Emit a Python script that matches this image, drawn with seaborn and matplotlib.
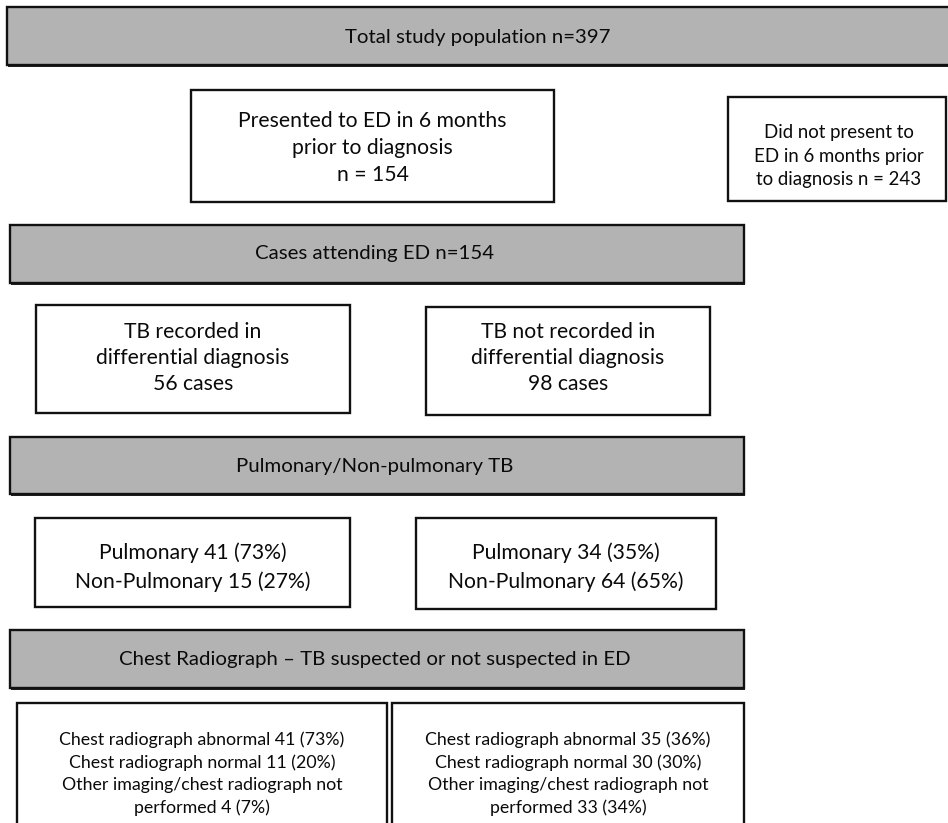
# Flow chart of TB cases presenting to ED

import matplotlib
matplotlib.use('Agg')
import matplotlib.pyplot as plt
import matplotlib.patches as mpatches
import seaborn as sns

# Text content of the chart
header_labels = [
    'Total study population n=397',
    'Cases attending ED n=154',
    'Pulmonary/Non-pulmonary TB',
    'Chest Radiograph \u2013 TB suspected or not suspected in ED',
]
presented_label = 'Presented to ED in 6 months\nprior to diagnosis\nn = 154'
not_presented_label = 'Did not present to\nED in 6 months prior\nto diagnosis n = 243'
dd_labels = [
    'TB recorded in\ndifferential diagnosis\n56 cases',
    'TB not recorded in\ndifferential diagnosis\n98 cases',
]
pulm_labels = [
    'Pulmonary 41 (73%)\nNon-Pulmonary 15 (27%)',
    'Pulmonary 34 (35%)\nNon-Pulmonary 64 (65%)',
]
cxr_labels = [
    'Chest radiograph abnormal 41 (73%)\nChest radiograph normal 11 (20%)\n'
    'Other imaging/chest radiograph not\nperformed 4 (7%)',
    'Chest radiograph abnormal 35 (36%)\nChest radiograph normal 30 (30%)\n'
    'Other imaging/chest radiograph not\nperformed 33 (34%)',
]

# Layout in pixel units (x0, y0, x1, y1), y measured from the top
header_boxes = [(7, 7, 960, 65), (10, 225, 744, 283), (10, 437, 744, 494), (10, 630, 744, 688)]
presented_box = (191, 90, 554, 202)
not_presented_box = (728, 97, 946, 201)
dd_boxes = [(36, 305, 350, 413), (426, 307, 710, 415)]
pulm_boxes = [(35, 518, 350, 607), (416, 518, 716, 609)]
cxr_boxes = [(17, 703, 387, 840), (392, 703, 744, 840)]

sns.set_theme(style='white')
plt.rcParams['font.family'] = ['Lato', 'DejaVu Sans']

fig = plt.figure(figsize=(9.48, 8.23), dpi=100)
ax = fig.add_axes([0, 0, 1, 1])
ax.set_xlim(0, 948)
ax.set_ylim(823, 0)
ax.axis('off')


def draw_box(box, label, size=15.2, tx=None, ty=None, linespacing=1.45):
    x0, y0, x1, y1 = box
    ax.add_patch(mpatches.Rectangle((x0, y0), x1 - x0, y1 - y0, facecolor='white',
                                    edgecolor='#111111', linewidth=1.7, zorder=2))
    cx = (x0 + x1) / 2 if tx is None else tx
    cy = (y0 + y1) / 2 if ty is None else ty
    ax.text(cx, cy, label, ha='center', va='center', fontsize=size,
            color='#0a0a0a', linespacing=linespacing, zorder=3)


grey = '#b3b3b3'
header_text_x = [478, 375, 375, 375]
header_text_y = [37, 253, 466, 660]
for box, label, tx, ty in zip(header_boxes, header_labels, header_text_x, header_text_y):
    x0, y0, x1, y1 = box
    # darker shadow along the bottom edge of the grey banners
    ax.add_patch(mpatches.Rectangle((x0 + 1, y0 + 2), x1 - x0, y1 - y0,
                                    facecolor='#222222', edgecolor='none', zorder=1))
    ax.add_patch(mpatches.Rectangle((x0, y0), x1 - x0, y1 - y0, facecolor=grey,
                                    edgecolor='#111111', linewidth=1.7, zorder=2))
    ax.text(tx, ty, label, ha='center', va='center', fontsize=14.7,
            color='#0a0a0a', zorder=3)

draw_box(presented_box, presented_label, ty=148, linespacing=1.45)
draw_box(not_presented_box, not_presented_label, size=13.4, tx=839, ty=156, linespacing=1.44)
for box, label in zip(dd_boxes, dd_labels):
    draw_box(box, label, ty=358, linespacing=1.38)
for box, label in zip(pulm_boxes, pulm_labels):
    draw_box(box, label, ty=567, linespacing=1.5)
for box, label in zip(cxr_boxes, cxr_labels):
    draw_box(box, label, size=12.8, ty=774, linespacing=1.47)

fig.savefig('out.png', dpi=100)
